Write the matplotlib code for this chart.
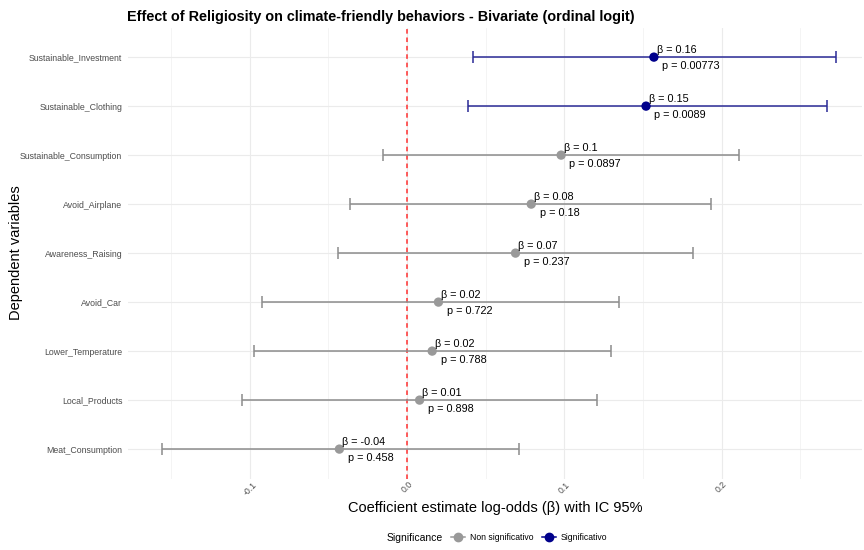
import matplotlib.pyplot as plt
from matplotlib.lines import Line2D

plt.rcParams['font.family'] = ['Liberation Sans', 'DejaVu Sans']

# ordered bottom -> top
variables = ['Meat_Consumption', 'Local_Products', 'Lower_Temperature', 'Avoid_Car',
             'Awareness_Raising', 'Avoid_Airplane', 'Sustainable_Consumption',
             'Sustainable_Clothing', 'Sustainable_Investment']
beta = [-0.043, 0.008, 0.016, 0.020, 0.069, 0.079, 0.098, 0.152, 0.157]
ci_low = [-0.156, -0.105, -0.097, -0.092, -0.044, -0.036, -0.015, 0.039, 0.042]
ci_high = [0.071, 0.121, 0.130, 0.135, 0.182, 0.193, 0.211, 0.267, 0.273]
beta_lbl = ['-0.04', '0.01', '0.02', '0.02', '0.07', '0.08', '0.1', '0.15', '0.16']
p_lbl = ['0.458', '0.898', '0.788', '0.722', '0.237', '0.18', '0.0897', '0.0089', '0.00773']
signif = [False, False, False, False, False, False, False, True, True]

col_ns = '#999999'
col_s = '#00008B'

fig = plt.figure(figsize=(8.64, 5.5), dpi=100)
ax = fig.add_axes([0.148, 0.130, 0.85, 0.8196])

for i, v in enumerate(variables):
    y = i + 1
    c = col_s if signif[i] else col_ns
    lc = '#2a2a96' if signif[i] else '#8c8c8c'
    ax.errorbar(beta[i], y, xerr=[[beta[i] - ci_low[i]], [ci_high[i] - beta[i]]],
                fmt='none', ecolor=lc, elinewidth=1.1, capsize=4.5, capthick=1.1, zorder=3)
    ax.scatter(beta[i], y, s=45, color=c, zorder=4, edgecolors='none')
    ax.annotate('β = ' + beta_lbl[i], (beta[i], y), xytext=(2, 1.5), textcoords='offset points',
                fontsize=7.8, ha='left', va='bottom', color='black', zorder=5)
    ax.annotate('p = ' + p_lbl[i], (beta[i], y), xytext=(6, -2.5), textcoords='offset points',
                fontsize=7.8, ha='left', va='top', color='black', zorder=5)

ax.axvline(0, color='#ff3030', linestyle=(0, (3, 2.5)), linewidth=1.1, zorder=2)

ax.set_yticks(range(1, len(variables) + 1))
ax.set_yticklabels(variables, fontsize=6.3, color='#4d4d4d')
ax.set_ylim(0.4, len(variables) + 0.6)
ax.set_xlim(-0.1775, 0.2895)
ax.set_xticks([-0.1, 0.0, 0.1, 0.2])
ax.set_xticklabels(['-0.1', '0.0', '0.1', '0.2'], rotation=45, fontsize=6.3, color='#4d4d4d',
                   ha='center', va='top')
ax.set_xticks([-0.15, -0.05, 0.05, 0.15, 0.25], minor=True)
ax.tick_params(axis='y', which='both', length=0, pad=4)
ax.tick_params(axis='x', which='both', length=0, pad=1)
ax.grid(True, which='major', color='#ebebeb', linewidth=0.8)
ax.grid(True, which='minor', axis='x', color='#f3f3f3', linewidth=0.6)
ax.set_axisbelow(True)
for s in ax.spines.values():
    s.set_visible(False)

ax.set_xlabel('Coefficient estimate log-odds (β) with IC 95%', fontsize=10.5, labelpad=3)
ax.set_ylabel('Dependent variables', fontsize=10.5)
ax.yaxis.set_label_coords(-0.143, 0.5)
fig.text(0.147, 0.970, 'Effect of Religiosity on climate-friendly behaviors - Bivariate (ordinal logit)',
         fontsize=10.4, fontweight='bold', ha='left', va='center')

handles = [Line2D([0], [0], color=col_ns, marker='o', markersize=6, linewidth=1.1),
           Line2D([0], [0], color=col_s, marker='o', markersize=6, linewidth=1.1)]
fig.text(0.447, 0.022, 'Significance', fontsize=7.5, ha='left', va='center')
fig.legend(handles, ['Non significativo', 'Significativo'], loc='center left',
           bbox_to_anchor=(0.517, 0.022), ncol=2, frameon=False, fontsize=6.2,
           handlelength=1.6, handletextpad=0.6, columnspacing=1.0, borderpad=0)

fig.savefig('out.png', dpi=100)
